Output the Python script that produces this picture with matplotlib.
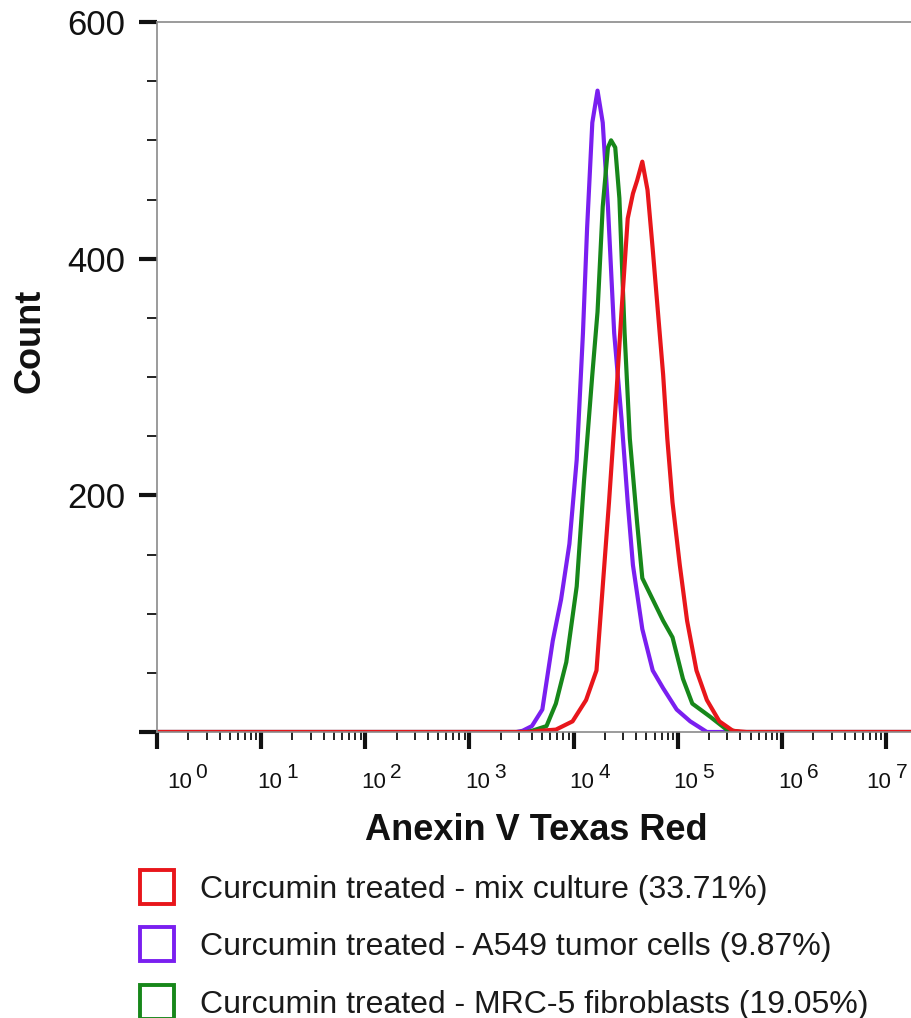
import numpy as np
import matplotlib
matplotlib.use("Agg")
import matplotlib.pyplot as plt
from matplotlib.lines import Line2D
from matplotlib.ticker import LogLocator, NullFormatter, FixedLocator, MultipleLocator

plt.rcParams['font.family'] = ['Liberation Sans', 'DejaVu Sans']

# log10 of Anexin V Texas Red intensity, and cell count
purple_log = [0.0, 3.45, 3.51, 3.60, 3.70, 3.80, 3.88, 3.96, 4.03, 4.09, 4.13, 4.18, 4.23, 4.28,
              4.33, 4.39, 4.46, 4.52, 4.57, 4.66, 4.76, 4.86, 4.99, 5.12, 5.28, 7.5]
purple_cnt = [0, 0, 1, 5, 19, 77, 112, 159, 230, 337, 426, 515, 542, 515,
              444, 337, 265, 194, 141, 87, 52, 37, 19, 9, 0, 0]

green_log = [0.0, 3.55, 3.60, 3.74, 3.83, 3.93, 4.03, 4.10, 4.18, 4.23, 4.28, 4.33, 4.36, 4.40,
             4.44, 4.49, 4.54, 4.61, 4.66, 4.76, 4.86, 4.95, 5.05, 5.14, 5.31, 5.47, 5.60, 7.5]
green_cnt = [0, 0, 1, 5, 24, 59, 123, 212, 302, 355, 444, 494, 500, 494,
             451, 337, 248, 177, 130, 112, 94, 80, 45, 24, 13, 2, 0, 0]

red_log = [0.0, 3.60, 3.67, 3.83, 3.99, 4.12, 4.22, 4.28, 4.34, 4.41, 4.46, 4.52, 4.57, 4.61,
           4.66, 4.71, 4.76, 4.81, 4.86, 4.90, 4.95, 5.02, 5.09, 5.18, 5.28, 5.40, 5.53, 5.66, 7.5]
red_cnt = [0, 0, 1, 2, 9, 27, 52, 123, 194, 284, 355, 434, 455, 466,
           482, 458, 408, 355, 302, 248, 194, 141, 94, 52, 27, 9, 1, 0, 0]

labels = ['Curcumin treated - mix culture (33.71%)',
          'Curcumin treated - A549 tumor cells (9.87%)',
          'Curcumin treated - MRC-5 fibroblasts (19.05%)']
colors = ['#e8161b', '#7a1ff0', '#17871a']

decades = list(range(8))
# extra nudge (points) for first and last decade label, as in the original
label_shift = [10, 0, 0, 0, 0, 0, 0, -11]

fig = plt.figure(figsize=(9.11, 10.18), dpi=100)
ax = fig.add_axes([157 / 911, 1 - 732 / 1018, 1 - 157 / 911, (732 - 22) / 1018])

ax.plot(10 ** np.array(purple_log), purple_cnt, color=colors[1], lw=3.0)
ax.plot(10 ** np.array(green_log), green_cnt, color=colors[2], lw=3.0)
ax.plot(10 ** np.array(red_log), red_cnt, color=colors[0], lw=3.0)

ax.set_xscale('log')
ax.set_xlim(1, 10 ** 7.24)
ax.set_ylim(0, 600)

for s in ['left', 'top', 'bottom']:
    ax.spines[s].set_color('#8a8a8a')
    ax.spines[s].set_linewidth(1.2)
ax.spines['right'].set_visible(False)

ax.yaxis.set_major_locator(FixedLocator([0, 200, 400, 600]))
ax.set_yticklabels(['', '200', '400', '600'], fontsize=25, color='#111111')
ax.yaxis.set_minor_locator(MultipleLocator(50))
ax.tick_params(axis='y', which='major', length=13, width=3.0, color='#111111', pad=10)
ax.tick_params(axis='y', which='minor', length=7, width=1.4, color='#222222')

ax.xaxis.set_major_locator(FixedLocator([10 ** d for d in decades]))
ax.xaxis.set_minor_locator(LogLocator(base=10, subs=np.arange(2, 10), numticks=20))
ax.xaxis.set_major_formatter(NullFormatter())
ax.xaxis.set_minor_formatter(NullFormatter())
ax.tick_params(axis='x', which='major', length=12, width=3.0, color='#111111')
ax.tick_params(axis='x', which='minor', length=6, width=1.4, color='#222222')

# decade labels drawn as "10" plus a large raised exponent
for d, sh in zip(decades, label_shift):
    ax.annotate('10', xy=(10 ** d, 0), xycoords=('data', 'axes fraction'),
                xytext=(6 + sh, -29), textcoords='offset points', ha='center', va='top',
                fontsize=16, color='#111111', annotation_clip=False)
    ax.annotate(str(d), xy=(10 ** d, 0), xycoords=('data', 'axes fraction'),
                xytext=(22 + sh, -22), textcoords='offset points', ha='center', va='top',
                fontsize=15, color='#111111', annotation_clip=False)

fig.text(536 / 911, 1 - 830 / 1018, 'Anexin V Texas Red', fontsize=26, fontweight='bold',
         ha='center', va='center', color='#111111')
fig.text(30 / 911, 1 - 341 / 1018, 'Count', fontsize=26, fontweight='bold', rotation=90,
         ha='center', va='center', color='#111111')

handles = [Line2D([], [], marker='s', ls='none', ms=24, mfc='white', mec=c, mew=2.8)
           for c in colors]
fig.legend(handles, labels, loc='upper left', bbox_to_anchor=(141 / 911, 1 - 875 / 1018),
           frameon=False, fontsize=23, handlelength=1.0, handletextpad=0.85,
           labelspacing=0.86, borderpad=0, borderaxespad=0, labelcolor='#1a1a1a')

fig.savefig('out.png', dpi=100)
